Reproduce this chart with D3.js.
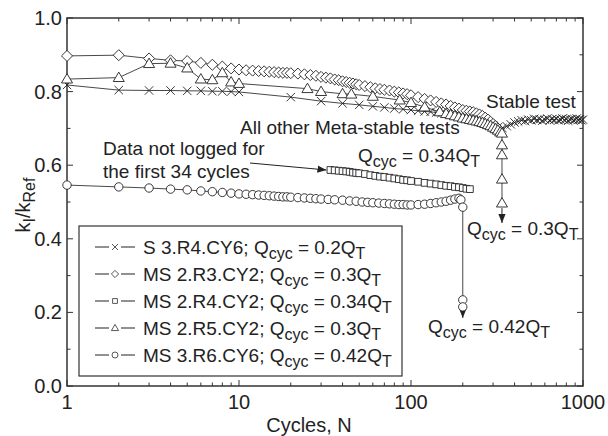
<!DOCTYPE html>
<html>
<head>
<meta charset="utf-8">
<script src="https://cdn.jsdelivr.net/npm/d3@7"></script>
<style>
  body { margin: 0; background: #fff; }
  svg { display: block; font-family: "Liberation Sans", Arial, sans-serif; }
</style>
</head>
<body>
<svg id="chart" width="608" height="436"></svg>
<script>
'use strict';

// ---- data: [cycles N, kI/kRef] ----
const stableS3R4 = [
  [1, .818], [2, .804], [3, .803], [4, .803], [5, .802], [6, .802], [7, .801], [8, .801], [9, .800], [10, .799],
  [20, .785], [30, .774], [40, .768], [50, .764], [60, .760], [70, .757], [80, .754], [90, .752], [100, .750],
  [110, .748], [120, .746], [130, .745], [140, .743], [150, .741], [160, .740], [170, .738], [180, .736], [190, .735],
  [200, .733], [210, .731], [220, .729], [230, .727], [240, .725], [250, .722], [260, .720], [270, .717], [280, .714],
  [290, .711], [300, .708], [320, .703], [340, .701], [360, .706], [380, .711], [400, .716], [420, .719], [440, .722],
  [460, .720], [480, .724], [500, .722], [520, .726], [540, .723], [560, .725], [580, .721], [600, .724], [620, .727],
  [640, .722], [660, .725], [680, .723], [700, .726], [720, .722], [740, .724], [760, .727], [780, .723], [800, .725],
  [820, .721], [840, .724], [860, .726], [880, .722], [900, .724], [920, .727], [940, .723], [960, .725], [980, .722],
  [1000, .724]
];

const metaMS2R3 = [
  [1, .897], [2, .899], [3, .890], [4, .885], [5, .883], [6, .878], [7, .873], [8, .868], [9, .863], [10, .860],
  [11, .858], [12, .857], [13, .856], [14, .855], [15, .854], [16, .853], [17, .852], [18, .851], [19, .851], [20, .850],
  [22, .849], [24, .847], [26, .845], [28, .843], [30, .840], [32, .838], [34, .836], [36, .833], [38, .831], [40, .828],
  [42, .826], [44, .824], [46, .822], [48, .820], [50, .818], [54, .815], [58, .812], [62, .809], [66, .807], [70, .805],
  [75, .803], [80, .800], [85, .798], [90, .795], [95, .793], [100, .790], [110, .785], [120, .780], [130, .776],
  [140, .772], [150, .768], [160, .765], [170, .761], [180, .757], [190, .754], [200, .750], [210, .748], [220, .746],
  [230, .744], [240, .741], [250, .738], [260, .734], [270, .729], [280, .724], [290, .718], [300, .712], [310, .706],
  [320, .700]
];

const metaMS2R4 = [
  [34, .587], [36, .586], [38, .585], [40, .584], [42, .583], [44, .582], [46, .580], [48, .579], [50, .578],
  [54, .576], [58, .573], [62, .571], [66, .569], [70, .568], [75, .566], [80, .564], [85, .562], [90, .560],
  [95, .559], [100, .557], [110, .555], [120, .552], [130, .550], [140, .548], [150, .546], [160, .544],
  [170, .543], [180, .541], [190, .540], [200, .538], [210, .536], [220, .535]
];

const metaMS2R5 = [
  [1, .834], [2, .838], [3, .876], [4, .877], [5, .864], [6, .834], [7, .832], [8, .851], [9, .826], [10, .822],
  [25, .808], [30, .800], [40, .794], [45, .793], [60, .787], [86, .777], [100, .770], [120, .758], [147, .745],
  [160, .740], [170, .737], [180, .734], [190, .731], [200, .728], [210, .726], [220, .724], [230, .722], [240, .720],
  [250, .718], [260, .716], [270, .713], [280, .710], [290, .707], [300, .703], [310, .699], [320, .695], [330, .690],
  [338, .687], [338, .655], [338, .628], [338, .562], [338, .497]
];

const metaMS3R6 = [
  [1, .546], [2, .541], [3, .538], [4, .535], [5, .533], [6, .530], [7, .528], [8, .526], [9, .524], [10, .522],
  [11, .521], [12, .520], [13, .519], [14, .518], [15, .517], [16, .516], [17, .515], [18, .514], [19, .514], [20, .513],
  [22, .512], [24, .511], [26, .510], [28, .509], [30, .508], [33, .507], [36, .506], [40, .505], [44, .503], [48, .502],
  [52, .500], [56, .499], [60, .498], [65, .497], [70, .496], [75, .495], [80, .494], [85, .493], [90, .493], [95, .492],
  [100, .492], [110, .493], [120, .494], [130, .496], [140, .498], [150, .500], [160, .502], [170, .505], [180, .508],
  [190, .510], [195, .506], [200, .486], [200, .234], [200, .215]
];

const legendNames = ['S 3.R4.CY6', 'MS 2.R3.CY2', 'MS 2.R4.CY2', 'MS 2.R5.CY2', 'MS 3.R6.CY6'];
const legendQ = ['0.2', '0.3', '0.34', '0.3', '0.42'];
const xTickLabels = [1, 10, 100, 1000];
const yTickLabels = [0, 0.2, 0.4, 0.6, 0.8, 1.0];
const yMinorTicks = [0.1, 0.3, 0.5, 0.7, 0.9];

// ---- layout ----
const svg = d3.select('#chart');
const plotLeft = 67, plotRight = 583, plotTop = 18, plotBottom = 386;
const ink = '#222';
const textSize = 19, subSize = 16;

const x = d3.scaleLog().domain([1, 1000]).range([plotLeft, plotRight]);
const y = d3.scaleLinear().domain([0, 1]).range([plotBottom, plotTop]);

// marker shapes
const shapes = {
  cross: s => `M${-s},${-s}L${s},${s}M${-s},${s}L${s},${-s}`,
  diamond: s => `M0,${-s * 1.2}L${s * 1.2},0L0,${s * 1.2}L${-s * 1.2},0Z`,
  square: s => `M${-s * 0.8},${-s * 0.8}h${s * 1.6}v${s * 1.6}h${-s * 1.6}Z`,
  triangle: s => `M0,${-s * 1.2}L${s * 1.2},${s * 0.85}L${-s * 1.2},${s * 0.85}Z`,
  circle: s => `M${s},0A${s},${s} 0 1,1 ${-s},0A${s},${s} 0 1,1 ${s},0Z`
};

const series = [
  { data: stableS3R4, shape: 'cross', size: 4.2 },
  { data: metaMS2R3, shape: 'diamond', size: 4.6 },
  { data: metaMS2R4, shape: 'square', size: 4.2 },
  { data: metaMS2R5, shape: 'triangle', size: 4.6 },
  { data: metaMS3R6, shape: 'circle', size: 4.2 }
];

const defs = svg.append('defs');
defs.append('marker')
  .attr('id', 'head')
  .attr('viewBox', '0 0 10 10')
  .attr('refX', 10).attr('refY', 5)
  .attr('markerWidth', 9).attr('markerHeight', 9)
  .attr('markerUnits', 'userSpaceOnUse')
  .attr('orient', 'auto')
  .append('path')
  .attr('d', 'M0,1L10,5L0,9Z')
  .attr('fill', ink);

// ---- axes (ticks pointing inwards on all four sides) ----
const axisG = svg.append('g').attr('stroke', '#333');
const minorX = x.ticks().filter(v => !xTickLabels.includes(v));

function hTicks(values, yPos, len) {
  axisG.selectAll(null).data(values).enter().append('line')
    .attr('x1', d => x(d)).attr('x2', d => x(d))
    .attr('y1', yPos).attr('y2', yPos + len)
    .attr('stroke-width', 1);
}
function vTicks(values, xPos, len) {
  axisG.selectAll(null).data(values).enter().append('line')
    .attr('y1', d => y(d)).attr('y2', d => y(d))
    .attr('x1', xPos).attr('x2', xPos + len)
    .attr('stroke-width', 1);
}
hTicks(xTickLabels, plotBottom, -6);
hTicks(minorX, plotBottom, -3.5);
hTicks(xTickLabels, plotTop, 6);
hTicks(minorX, plotTop, 3.5);
vTicks(yTickLabels, plotLeft, 6);
vTicks(yMinorTicks, plotLeft, 3.5);
vTicks(yTickLabels, plotRight, -6);
vTicks(yMinorTicks, plotRight, -3.5);

// ---- series ----
const line = d3.line().x(d => x(d[0])).y(d => y(d[1]));
const plot = svg.append('g');

series.forEach(s => {
  plot.append('path')
    .attr('d', line(s.data))
    .attr('fill', 'none')
    .attr('stroke', '#333')
    .attr('stroke-width', 0.9);
});

// failure arrows
plot.append('line')
  .attr('x1', x(338)).attr('y1', y(0.497) + 5)
  .attr('x2', x(338)).attr('y2', y(0.443))
  .attr('stroke', ink).attr('stroke-width', 1)
  .attr('marker-end', 'url(#head)');
plot.append('line')
  .attr('x1', x(200)).attr('y1', y(0.215) + 4)
  .attr('x2', x(200)).attr('y2', y(0.185))
  .attr('stroke', ink).attr('stroke-width', 1)
  .attr('marker-end', 'url(#head)');

series.forEach(s => {
  plot.append('g').selectAll('path').data(s.data).enter().append('path')
    .attr('transform', d => `translate(${x(d[0])},${y(d[1])})`)
    .attr('d', shapes[s.shape](s.size))
    .attr('fill', s.shape === 'cross' ? 'none' : '#fff')
    .attr('stroke', ink)
    .attr('stroke-width', 0.9);
});

// frame on top of the markers
axisG.append('rect')
  .attr('x', plotLeft).attr('y', plotTop)
  .attr('width', plotRight - plotLeft).attr('height', plotBottom - plotTop)
  .attr('fill', 'none').attr('stroke-width', 1.5);

// tick labels
const labels = svg.append('g').attr('fill', ink).attr('font-size', 20);
labels.selectAll(null).data(xTickLabels).enter().append('text')
  .attr('x', d => x(d)).attr('y', 409)
  .attr('text-anchor', 'middle')
  .text(d => d);
labels.selectAll(null).data(yTickLabels).enter().append('text')
  .attr('x', 62).attr('y', d => y(d) + 7)
  .attr('text-anchor', 'end')
  .text(d => d.toFixed(1));

labels.append('text')
  .attr('x', 309).attr('y', 432)
  .attr('text-anchor', 'middle')
  .text('Cycles, N');

const yLabel = labels.append('text')
  .attr('transform', 'translate(30,205) rotate(-90)')
  .attr('text-anchor', 'middle');
yLabel.append('tspan').text('k');
yLabel.append('tspan').attr('font-size', subSize).attr('dy', 5).text('I');
yLabel.append('tspan').attr('dy', -5).text('/k');
yLabel.append('tspan').attr('font-size', subSize).attr('dy', 5).text('Ref');

// text with Q_cyc = ...Q_T, optionally prefixed
function qText(g, xPos, yPos, value, prefix) {
  const t = g.append('text').attr('x', xPos).attr('y', yPos)
    .attr('font-size', textSize).attr('fill', ink);
  t.append('tspan').text(`${prefix || ''}Q`);
  t.append('tspan').attr('font-size', subSize).attr('dy', 5).text('cyc');
  t.append('tspan').attr('dy', -5).text(` = ${value}Q`);
  t.append('tspan').attr('font-size', subSize).attr('dy', 5).text('T');
  return t;
}

// ---- annotations ----
const notes = svg.append('g').attr('font-size', textSize).attr('fill', ink);
notes.append('text').attr('x', 486).attr('y', 108).text('Stable test');
notes.append('text').attr('x', 240).attr('y', 134).text('All other Meta-stable tests');
notes.append('text').attr('x', 103).attr('y', 155).text('Data not logged for');
notes.append('text').attr('x', 103).attr('y', 178).text('the first 34 cycles');
qText(notes, 358, 162, '0.34');
qText(notes, 467, 235, '0.3');
qText(notes, 428, 333, '0.42');

notes.append('line')
  .attr('x1', 250).attr('y1', 163)
  .attr('x2', x(34) - 4).attr('y2', y(0.587))
  .attr('stroke', ink).attr('stroke-width', 1)
  .attr('marker-end', 'url(#head)');

// ---- legend ----
const legend = svg.append('g');
legend.append('rect')
  .attr('x', 79).attr('y', 226).attr('width', 323).attr('height', 150)
  .attr('fill', '#fff').attr('stroke', '#333').attr('stroke-width', 1.2);

series.forEach((s, i) => {
  const cy = 247 + i * 27;
  const row = legend.append('g');
  row.append('line').attr('x1', 95).attr('x2', 109).attr('y1', cy).attr('y2', cy)
    .attr('stroke', '#555').attr('stroke-width', 1.3);
  row.append('line').attr('x1', 121).attr('x2', 135).attr('y1', cy).attr('y2', cy)
    .attr('stroke', '#555').attr('stroke-width', 1.3);
  row.append('path')
    .attr('transform', `translate(115,${cy})`)
    .attr('d', shapes[s.shape](3))
    .attr('fill', '#fff').attr('stroke', '#444').attr('stroke-width', 0.9);
  qText(row, 143, cy + 6.5, legendQ[i], `${legendNames[i]}; `);
});
</script>
</body>
</html>
